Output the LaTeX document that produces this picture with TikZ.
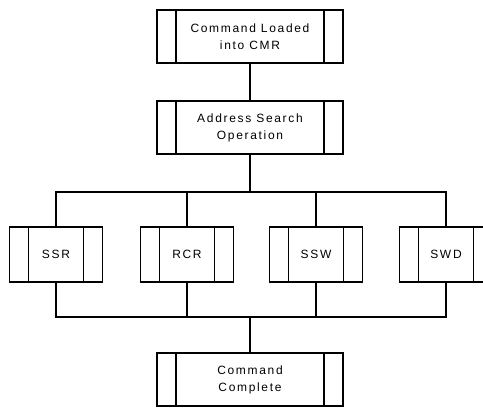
\documentclass[tikz,border=0pt]{standalone}
\usepackage{fontspec}
\setmainfont{Liberation Sans}[LetterSpace=14]
\begin{document}
\begin{tikzpicture}[x=1pt,y=-1pt,
  line width=1.8pt,
  procbox/.style={draw, line width=1.8pt, fill=white, align=center,
    inner sep=0pt, minimum width=#1, font=\fontsize{12}{17}\selectfont,
    path picture={
      \draw[line width=1.8pt]
        ([xshift=19pt]path picture bounding box.north west) --
        ([xshift=19pt]path picture bounding box.south west)
        ([xshift=-19pt]path picture bounding box.north east) --
        ([xshift=-19pt]path picture bounding box.south east);
    }},
  procbox/.default=186pt,
  tallbox/.style={procbox=#1, minimum height=53pt},
  smallbox/.style={procbox=93pt, minimum height=55pt},
  wire/.style={draw, line width=1.8pt}]
\useasboundingbox (0,0) rectangle (483,408);
\clip (0,0) rectangle (483,408);

% main sequence
\node[tallbox=186pt] (load) at (250,36.5) {Command Loaded\\into CMR};
\node[tallbox=186pt] (addr) at (250,127.5) {Address Search\\Operation};

% parallel operations
\node[smallbox] (ssr) at (56,254.5) {SSR};
\node[smallbox] (rcr) at (187,254.5) {RCR};
\node[smallbox] (ssw) at (316,254.5) {SSW};
\node[smallbox] (swd) at (446,254.5) {SWD};

\node[tallbox=186pt] (done) at (250,379.5) {Command\\Complete};

% bus levels
\coordinate (busA) at (0,192);
\coordinate (busB) at (0,317);

\draw[wire] (load.south) -- (addr.north);
\draw[wire] (addr.south) -- (addr.south |- busA);
\draw[wire] (ssr.north) -- (ssr.north |- busA) -- (swd.north |- busA) -- (swd.north);
\draw[wire] (rcr.north) -- (rcr.north |- busA);
\draw[wire] (ssw.north) -- (ssw.north |- busA);

\draw[wire] (ssr.south) -- (ssr.south |- busB) -- (swd.south |- busB) -- (swd.south);
\draw[wire] (rcr.south) -- (rcr.south |- busB);
\draw[wire] (ssw.south) -- (ssw.south |- busB);
\draw[wire] (done.north |- busB) -- (done.north);
\end{tikzpicture}
\end{document}
